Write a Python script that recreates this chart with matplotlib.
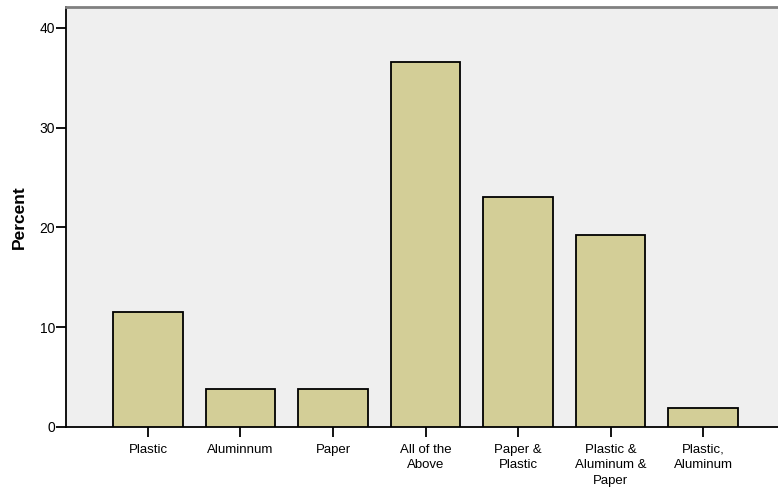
import numpy as np
import matplotlib.pyplot as plt

plt.rcParams['font.family'] = ['Liberation Sans', 'DejaVu Sans']

categories = ["Plastic", "Aluminnum", "Paper", "All of the\nAbove", "Paper &\nPlastic",
              "Plastic &\nAluminum &\nPaper", "Plastic,\nAluminum"]
percent = [11.54, 3.85, 3.85, 36.54, 23.08, 19.23, 1.92]
y_ticks = [0, 10, 20, 30, 40]

fig = plt.figure(figsize=(7.78, 4.93), dpi=100)
ax = fig.add_axes([66 / 778, 1 - 427 / 493, 1 - 66 / 778, 420 / 493])
ax.set_facecolor("#efefef")

x = np.arange(len(categories))
ax.bar(x, percent, width=0.755, color="#d3ce97", edgecolor="black", linewidth=1.3, zorder=3)

ax.set_xlim(-0.886, 6.81)
ax.set_ylim(0, 42.1)
ax.set_yticks(y_ticks)
ax.set_xticks(x)
ax.set_xticklabels(categories, fontsize=9.5, linespacing=1.38, va="top")
ax.tick_params(axis="y", labelsize=10, length=7, width=1.3, direction="out", pad=1)
ax.tick_params(axis="x", length=7, width=1.3, direction="out", pad=5)

ax.spines["right"].set_visible(False)
ax.spines["top"].set_color("#808080")
ax.spines["top"].set_linewidth(2)
ax.spines["left"].set_linewidth(1.3)
ax.spines["bottom"].set_linewidth(1.3)

ax.set_ylabel("Percent", fontsize=12.5, fontweight="bold", labelpad=9)

fig.savefig("out.png", dpi=100)
